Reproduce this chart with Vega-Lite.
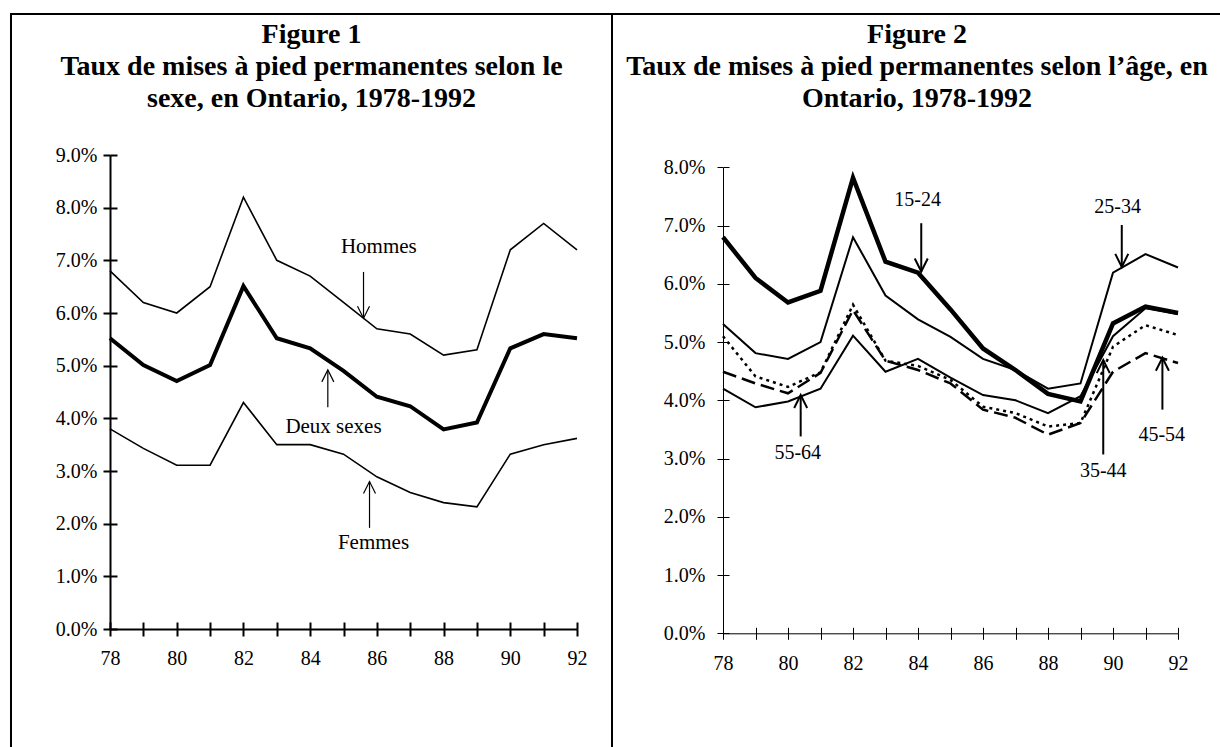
{
  "$schema": "https://vega.github.io/schema/vega-lite/v6.json",
  "padding": {"left": 10, "top": 13, "right": 0, "bottom": 0},
  "background": "white",
  "bounds": "flush",
  "spacing": 0,
  "config": {
    "font": "Liberation Serif",
    "axis": {"grid": false, "labelFont": "Liberation Serif", "labelFontSize": 20, "labelColor": "black", "domainColor": "black", "tickColor": "black", "labelFlush": false, "labelOverlap": false},
    "title": {"font": "Liberation Serif", "fontSize": 28, "fontWeight": "bold", "color": "black", "anchor": "middle", "frame": "group", "baseline": "top", "lineHeight": 32, "offset": -99},
    "text": {"font": "Liberation Serif", "color": "black"}
  },
  "datasets": {
    "sexes": [
      {"annee": 78, "serie": "Hommes", "taux": 6.8}, {"annee": 79, "serie": "Hommes", "taux": 6.2}, {"annee": 80, "serie": "Hommes", "taux": 6.0}, {"annee": 81, "serie": "Hommes", "taux": 6.5}, {"annee": 82, "serie": "Hommes", "taux": 8.2}, {"annee": 83, "serie": "Hommes", "taux": 7.0}, {"annee": 84, "serie": "Hommes", "taux": 6.7}, {"annee": 85, "serie": "Hommes", "taux": 6.2}, {"annee": 86, "serie": "Hommes", "taux": 5.7}, {"annee": 87, "serie": "Hommes", "taux": 5.6}, {"annee": 88, "serie": "Hommes", "taux": 5.2}, {"annee": 89, "serie": "Hommes", "taux": 5.3}, {"annee": 90, "serie": "Hommes", "taux": 7.2}, {"annee": 91, "serie": "Hommes", "taux": 7.7}, {"annee": 92, "serie": "Hommes", "taux": 7.2},
      {"annee": 78, "serie": "Femmes", "taux": 3.8}, {"annee": 79, "serie": "Femmes", "taux": 3.43}, {"annee": 80, "serie": "Femmes", "taux": 3.11}, {"annee": 81, "serie": "Femmes", "taux": 3.11}, {"annee": 82, "serie": "Femmes", "taux": 4.3}, {"annee": 83, "serie": "Femmes", "taux": 3.5}, {"annee": 84, "serie": "Femmes", "taux": 3.5}, {"annee": 85, "serie": "Femmes", "taux": 3.32}, {"annee": 86, "serie": "Femmes", "taux": 2.89}, {"annee": 87, "serie": "Femmes", "taux": 2.59}, {"annee": 88, "serie": "Femmes", "taux": 2.4}, {"annee": 89, "serie": "Femmes", "taux": 2.32}, {"annee": 90, "serie": "Femmes", "taux": 3.32}, {"annee": 91, "serie": "Femmes", "taux": 3.5}, {"annee": 92, "serie": "Femmes", "taux": 3.62},
      {"annee": 78, "serie": "Deux sexes", "taux": 5.52}, {"annee": 79, "serie": "Deux sexes", "taux": 5.01}, {"annee": 80, "serie": "Deux sexes", "taux": 4.71}, {"annee": 81, "serie": "Deux sexes", "taux": 5.01}, {"annee": 82, "serie": "Deux sexes", "taux": 6.51}, {"annee": 83, "serie": "Deux sexes", "taux": 5.52}, {"annee": 84, "serie": "Deux sexes", "taux": 5.33}, {"annee": 85, "serie": "Deux sexes", "taux": 4.9}, {"annee": 86, "serie": "Deux sexes", "taux": 4.41}, {"annee": 87, "serie": "Deux sexes", "taux": 4.23}, {"annee": 88, "serie": "Deux sexes", "taux": 3.79}, {"annee": 89, "serie": "Deux sexes", "taux": 3.92}, {"annee": 90, "serie": "Deux sexes", "taux": 5.33}, {"annee": 91, "serie": "Deux sexes", "taux": 5.6}, {"annee": 92, "serie": "Deux sexes", "taux": 5.52}
    ],
    "ages": [
      {"annee": 78, "age": "25-34", "taux": 5.31}, {"annee": 79, "age": "25-34", "taux": 4.81}, {"annee": 80, "age": "25-34", "taux": 4.71}, {"annee": 81, "age": "25-34", "taux": 5.0}, {"annee": 82, "age": "25-34", "taux": 6.8}, {"annee": 83, "age": "25-34", "taux": 5.8}, {"annee": 84, "age": "25-34", "taux": 5.39}, {"annee": 85, "age": "25-34", "taux": 5.09}, {"annee": 86, "age": "25-34", "taux": 4.71}, {"annee": 87, "age": "25-34", "taux": 4.52}, {"annee": 88, "age": "25-34", "taux": 4.2}, {"annee": 89, "age": "25-34", "taux": 4.29}, {"annee": 90, "age": "25-34", "taux": 6.19}, {"annee": 91, "age": "25-34", "taux": 6.51}, {"annee": 92, "age": "25-34", "taux": 6.28},
      {"annee": 78, "age": "35-44", "taux": 5.1}, {"annee": 79, "age": "35-44", "taux": 4.41}, {"annee": 80, "age": "35-44", "taux": 4.23}, {"annee": 81, "age": "35-44", "taux": 4.48}, {"annee": 82, "age": "35-44", "taux": 5.64}, {"annee": 83, "age": "35-44", "taux": 4.68}, {"annee": 84, "age": "35-44", "taux": 4.59}, {"annee": 85, "age": "35-44", "taux": 4.35}, {"annee": 86, "age": "35-44", "taux": 3.89}, {"annee": 87, "age": "35-44", "taux": 3.78}, {"annee": 88, "age": "35-44", "taux": 3.55}, {"annee": 89, "age": "35-44", "taux": 3.61}, {"annee": 90, "age": "35-44", "taux": 4.92}, {"annee": 91, "age": "35-44", "taux": 5.29}, {"annee": 92, "age": "35-44", "taux": 5.12},
      {"annee": 78, "age": "45-54", "taux": 4.49}, {"annee": 79, "age": "45-54", "taux": 4.29}, {"annee": 80, "age": "45-54", "taux": 4.12}, {"annee": 81, "age": "45-54", "taux": 4.47}, {"annee": 82, "age": "45-54", "taux": 5.55}, {"annee": 83, "age": "45-54", "taux": 4.68}, {"annee": 84, "age": "45-54", "taux": 4.52}, {"annee": 85, "age": "45-54", "taux": 4.29}, {"annee": 86, "age": "45-54", "taux": 3.84}, {"annee": 87, "age": "45-54", "taux": 3.7}, {"annee": 88, "age": "45-54", "taux": 3.41}, {"annee": 89, "age": "45-54", "taux": 3.61}, {"annee": 90, "age": "45-54", "taux": 4.49}, {"annee": 91, "age": "45-54", "taux": 4.81}, {"annee": 92, "age": "45-54", "taux": 4.64},
      {"annee": 78, "age": "55-64", "taux": 4.2}, {"annee": 79, "age": "55-64", "taux": 3.88}, {"annee": 80, "age": "55-64", "taux": 3.98}, {"annee": 81, "age": "55-64", "taux": 4.2}, {"annee": 82, "age": "55-64", "taux": 5.11}, {"annee": 83, "age": "55-64", "taux": 4.49}, {"annee": 84, "age": "55-64", "taux": 4.71}, {"annee": 85, "age": "55-64", "taux": 4.39}, {"annee": 86, "age": "55-64", "taux": 4.09}, {"annee": 87, "age": "55-64", "taux": 4.0}, {"annee": 88, "age": "55-64", "taux": 3.78}, {"annee": 89, "age": "55-64", "taux": 4.07}, {"annee": 90, "age": "55-64", "taux": 5.1}, {"annee": 91, "age": "55-64", "taux": 5.58}, {"annee": 92, "age": "55-64", "taux": 5.48},
      {"annee": 78, "age": "15-24", "taux": 6.8}, {"annee": 79, "age": "15-24", "taux": 6.1}, {"annee": 80, "age": "15-24", "taux": 5.68}, {"annee": 81, "age": "15-24", "taux": 5.88}, {"annee": 82, "age": "15-24", "taux": 7.82}, {"annee": 83, "age": "15-24", "taux": 6.38}, {"annee": 84, "age": "15-24", "taux": 6.19}, {"annee": 85, "age": "15-24", "taux": 5.56}, {"annee": 86, "age": "15-24", "taux": 4.89}, {"annee": 87, "age": "15-24", "taux": 4.52}, {"annee": 88, "age": "15-24", "taux": 4.11}, {"annee": 89, "age": "15-24", "taux": 3.98}, {"annee": 90, "age": "15-24", "taux": 5.32}, {"annee": 91, "age": "15-24", "taux": 5.61}, {"annee": 92, "age": "15-24", "taux": 5.5}
    ],
    "annL": [
      {"label": "Hommes", "tx": 86.06, "ty": 7.25, "ax": 85.6, "a0": 6.78, "a1": 5.9, "dir": "down"},
      {"label": "Deux sexes", "tx": 84.7, "ty": 3.84, "ax": 84.53, "a0": 4.21, "a1": 4.92, "dir": "up"},
      {"label": "Femmes", "tx": 85.9, "ty": 1.63, "ax": 85.78, "a0": 1.92, "a1": 2.8, "dir": "up"}
    ],
    "annR": [
      {"label": "15-24", "tx": 83.99, "ty": 7.44, "ax": 84.1, "a0": 7.04, "a1": 6.21, "dir": "down"},
      {"label": "25-34", "tx": 90.14, "ty": 7.32, "ax": 90.27, "a0": 7.01, "a1": 6.29, "dir": "down"},
      {"label": "55-64", "tx": 80.3, "ty": 3.1, "ax": 80.39, "a0": 3.38, "a1": 4.09, "dir": "up"},
      {"label": "35-44", "tx": 89.7, "ty": 2.78, "ax": 89.7, "a0": 3.07, "a1": 4.69, "dir": "up"},
      {"label": "45-54", "tx": 91.5, "ty": 3.41, "ax": 91.52, "a0": 3.84, "a1": 4.73, "dir": "up"}
    ]
  },
  "hconcat": [
    {
      "width": 601,
      "height": 760,
      "view": {"stroke": "black", "strokeWidth": 2, "fill": "white"},
      "title": {"text": ["Figure 1", "Taux de mises à pied permanentes selon le", "sexe, en Ontario, 1978-1992"]},
      "resolve": {"axis": {"x": "independent", "y": "independent"}},
      "layer": [
        {
          "data": {"name": "sexes"},
          "transform": [{"filter": "datum.serie !== 'Deux sexes'"}],
          "mark": {"type": "line", "color": "black", "strokeJoin": "miter", "strokeWidth": 1.6},
          "encoding": {
            "x": {"field": "annee", "type": "quantitative", "scale": {"domain": [78, 92], "range": [99, 566], "nice": false, "zero": false}, "axis": {"orient": "bottom", "offset": -145, "values": [78, 79, 80, 81, 82, 83, 84, 85, 86, 87, 88, 89, 90, 91, 92], "labelExpr": "datum.value % 2 === 0 ? format(datum.value, 'd') : ''", "tickSize": 7, "tickWidth": 2, "domainWidth": 2, "labelPadding": 12, "title": null}},
            "y": {"field": "taux", "type": "quantitative", "scale": {"domain": [0, 9], "range": [615, 141], "nice": false}, "axis": {"orient": "left", "offset": -99, "values": [0, 1, 2, 3, 4, 5, 6, 7, 8, 9], "labelExpr": "format(datum.value, '.1f') + '%'", "tickSize": 7, "tickWidth": 2, "domainWidth": 2, "labelPadding": 6, "title": null}},
            "detail": {"field": "serie", "type": "nominal"}
          }
        },
        {
          "data": {"name": "sexes"},
          "transform": [{"filter": "datum.serie === 'Deux sexes'"}],
          "mark": {"type": "line", "color": "black", "strokeJoin": "miter", "strokeWidth": 4},
          "encoding": {
            "x": {"field": "annee", "type": "quantitative", "axis": {"orient": "top", "offset": -615, "values": [78, 79, 80, 81, 82, 83, 84, 85, 86, 87, 88, 89, 90, 91, 92], "labels": false, "domain": false, "tickSize": 7, "tickWidth": 2, "title": null}},
            "y": {"field": "taux", "type": "quantitative", "axis": {"orient": "right", "offset": -502, "values": [0, 1, 2, 3, 4, 5, 6, 7, 8, 9], "labels": false, "domain": false, "tickSize": 7, "tickWidth": 2, "title": null}},
            "detail": {"field": "serie", "type": "nominal"}
          }
        },
        {
          "data": {"name": "annL"},
          "mark": {"type": "rule", "color": "black", "strokeWidth": 1.2},
          "encoding": {
            "x": {"field": "ax", "type": "quantitative", "axis": null},
            "y": {"field": "a0", "type": "quantitative", "axis": null},
            "y2": {"field": "a1"}
          }
        },
        {
          "data": {"name": "annL"},
          "transform": [{"filter": "datum.dir === 'up'"}],
          "mark": {"type": "point", "shape": "M -0.5 1 L 0 0 L 0.5 1", "filled": false, "color": "black", "strokeWidth": 1.2, "size": 576, "opacity": 1},
          "encoding": {
            "x": {"field": "ax", "type": "quantitative", "axis": null},
            "y": {"field": "a1", "type": "quantitative", "axis": null}
          }
        },
        {
          "data": {"name": "annL"},
          "transform": [{"filter": "datum.dir === 'down'"}],
          "mark": {"type": "point", "shape": "M -0.5 -1 L 0 0 L 0.5 -1", "filled": false, "color": "black", "strokeWidth": 1.2, "size": 576, "opacity": 1},
          "encoding": {
            "x": {"field": "ax", "type": "quantitative", "axis": null},
            "y": {"field": "a1", "type": "quantitative", "axis": null}
          }
        },
        {
          "data": {"name": "annL"},
          "mark": {"type": "text", "fontSize": 21, "align": "center", "baseline": "middle", "color": "black"},
          "encoding": {
            "x": {"field": "tx", "type": "quantitative", "axis": null},
            "y": {"field": "ty", "type": "quantitative", "axis": null},
            "text": {"field": "label"}
          }
        }
      ]
    },
    {
      "width": 610,
      "height": 760,
      "view": {"stroke": "black", "strokeWidth": 2, "fill": "white"},
      "title": {"text": ["Figure 2", "Taux de mises à pied permanentes selon l’âge, en", "Ontario, 1978-1992"]},
      "resolve": {"axis": {"x": "independent", "y": "independent"}},
      "layer": [
        {
          "data": {"name": "ages"},
          "transform": [{"filter": "datum.age === '25-34' || datum.age === '55-64'"}],
          "mark": {"type": "line", "color": "black", "strokeJoin": "miter", "strokeWidth": 2},
          "encoding": {
            "x": {"field": "annee", "type": "quantitative", "scale": {"domain": [78, 92], "range": [111, 566], "nice": false, "zero": false}, "axis": {"orient": "bottom", "offset": -140.7, "values": [78, 79, 80, 81, 82, 83, 84, 85, 86, 87, 88, 89, 90, 91, 92], "labelExpr": "datum.value % 2 === 0 ? format(datum.value, 'd') : ''", "tickSize": 6, "tickWidth": 1, "domainWidth": 1, "labelPadding": 14, "title": null}},
            "y": {"field": "taux", "type": "quantitative", "scale": {"domain": [0, 8], "range": [619.3, 153.3], "nice": false}, "axis": {"orient": "left", "offset": -111, "values": [0, 1, 2, 3, 4, 5, 6, 7, 8], "labelExpr": "format(datum.value, '.1f') + '%'", "tickSize": 6, "tickWidth": 1, "domainWidth": 1, "labelPadding": 12, "title": null}},
            "detail": {"field": "age", "type": "nominal"}
          }
        },
        {
          "data": {"name": "ages"},
          "transform": [{"filter": "datum.age === '35-44'"}],
          "mark": {"type": "line", "color": "black", "strokeJoin": "miter", "strokeWidth": 2.5, "strokeDash": [3, 4]},
          "encoding": {
            "x": {"field": "annee", "type": "quantitative", "axis": {"orient": "top", "offset": -619.3, "values": [78, 79, 80, 81, 82, 83, 84, 85, 86, 87, 88, 89, 90, 91, 92], "labels": false, "domain": false, "tickSize": 6, "tickWidth": 1, "title": null}},
            "y": {"field": "taux", "type": "quantitative", "axis": {"orient": "right", "offset": -499, "values": [0, 1, 2, 3, 4, 5, 6, 7, 8], "labels": false, "domain": false, "tickSize": 6, "tickWidth": 1, "title": null}}
          }
        },
        {
          "data": {"name": "ages"},
          "transform": [{"filter": "datum.age === '45-54'"}],
          "mark": {"type": "line", "color": "black", "strokeJoin": "miter", "strokeWidth": 2.5, "strokeDash": [14, 6]},
          "encoding": {
            "x": {"field": "annee", "type": "quantitative", "axis": null},
            "y": {"field": "taux", "type": "quantitative", "axis": null}
          }
        },
        {
          "data": {"name": "ages"},
          "transform": [{"filter": "datum.age === '15-24'"}],
          "mark": {"type": "line", "color": "black", "strokeJoin": "miter", "strokeWidth": 4.5},
          "encoding": {
            "x": {"field": "annee", "type": "quantitative", "axis": null},
            "y": {"field": "taux", "type": "quantitative", "axis": null}
          }
        },
        {
          "data": {"name": "annR"},
          "mark": {"type": "rule", "color": "black", "strokeWidth": 2},
          "encoding": {
            "x": {"field": "ax", "type": "quantitative", "axis": null},
            "y": {"field": "a0", "type": "quantitative", "axis": null},
            "y2": {"field": "a1"}
          }
        },
        {
          "data": {"name": "annR"},
          "transform": [{"filter": "datum.dir === 'up'"}],
          "mark": {"type": "point", "shape": "M -0.5 1 L 0 0 L 0.5 1", "filled": false, "color": "black", "strokeWidth": 2, "size": 676, "opacity": 1},
          "encoding": {
            "x": {"field": "ax", "type": "quantitative", "axis": null},
            "y": {"field": "a1", "type": "quantitative", "axis": null}
          }
        },
        {
          "data": {"name": "annR"},
          "transform": [{"filter": "datum.dir === 'down'"}],
          "mark": {"type": "point", "shape": "M -0.5 -1 L 0 0 L 0.5 -1", "filled": false, "color": "black", "strokeWidth": 2, "size": 676, "opacity": 1},
          "encoding": {
            "x": {"field": "ax", "type": "quantitative", "axis": null},
            "y": {"field": "a1", "type": "quantitative", "axis": null}
          }
        },
        {
          "data": {"name": "annR"},
          "mark": {"type": "text", "fontSize": 20, "align": "center", "baseline": "middle", "color": "black"},
          "encoding": {
            "x": {"field": "tx", "type": "quantitative", "axis": null},
            "y": {"field": "ty", "type": "quantitative", "axis": null},
            "text": {"field": "label"}
          }
        }
      ]
    }
  ]
}
